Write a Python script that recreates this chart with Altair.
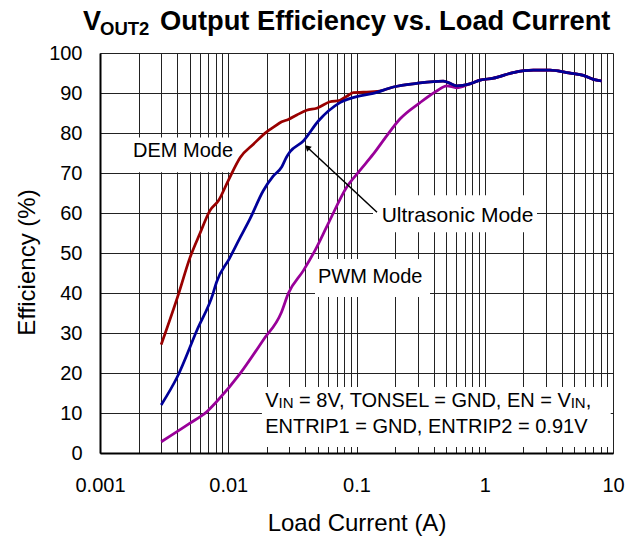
import altair as alt
import pandas as pd

FONT = "Liberation Sans"

# ---------------- data ----------------
dem_x = [0.003, 0.0041, 0.005, 0.006, 0.0072, 0.0084, 0.01, 0.0124, 0.0157, 0.01995, 0.0224,
         0.0261, 0.0294, 0.0342, 0.0409, 0.049, 0.0621, 0.0743, 0.084, 0.0945, 0.113, 0.152,
         0.194, 0.294, 0.474, 0.52, 0.604, 0.767, 0.918, 1.17, 1.67, 2.39, 3.23, 4.36, 5.87, 7.02, 8.15]
dem_y = [27.1, 39.8, 48.6, 54.8, 60.6, 63.1, 68.1, 73.9, 77.2, 80.3, 81.4,
         82.8, 83.4, 84.5, 85.7, 86.2, 87.8, 88.2, 89.2, 90.1, 90.2, 90.5,
         91.5, 92.4, 93.0, 92.6, 91.8, 92.3, 93.2, 93.7, 95.1, 95.7, 95.7, 95.1, 94.4, 93.4, 93.0]

ultra_x = [0.003, 0.004, 0.0057, 0.0076, 0.0081, 0.0102, 0.0124, 0.0148, 0.0187, 0.0224, 0.0261,
           0.0285, 0.0303, 0.0385, 0.0504, 0.0743, 0.106, 0.135, 0.194, 0.294, 0.474, 0.52,
           0.604, 0.767, 0.918, 1.17, 1.67, 2.39, 3.23, 4.36, 5.87, 7.02, 8.15]
ultra_y = [12.0, 19.0, 30.7, 39.8, 42.7, 48.6, 53.9, 58.6, 65.5, 69.2, 71.5,
           74.0, 75.3, 78.0, 83.0, 87.6, 89.3, 89.9, 91.5, 92.4, 93.0, 92.6,
           91.8, 92.3, 93.2, 93.7, 95.1, 95.7, 95.7, 95.1, 94.4, 93.4, 93.0]

pwm_x = [0.003, 0.005, 0.0068, 0.0081, 0.0124, 0.0187, 0.026, 0.0294, 0.0385, 0.0474, 0.0603,
         0.084, 0.106, 0.135, 0.172, 0.218, 0.313, 0.422, 0.505, 0.604, 0.767, 0.918, 1.17,
         1.67, 2.39, 3.23, 4.36, 5.87, 7.02, 8.15]
pwm_y = [2.8, 7.4, 10.3, 12.8, 19.9, 28.2, 35.2, 39.9, 45.6, 50.6, 57.4,
         66.5, 70.6, 74.7, 79.3, 83.5, 87.6, 90.5, 91.8, 91.3, 92.3, 93.2, 93.7,
         95.1, 95.7, 95.7, 95.1, 94.4, 93.4, 93.0]

x_ticks = [round(m * 10.0 ** e, 6) for e in range(-3, 1) for m in range(1, 10)] + [10.0]
y_ticks = list(range(0, 101, 10))

# label anchors (x in A, y in %)
label_text = ["DEM Mode", "Ultrasonic Mode", "PWM Mode"]
label_x = [0.00181, 0.1572, 0.0501]
label_y = [73.9, 57.7, 42.5]
label_size = [20, 21, 20]

# white label backgrounds
box_x = [0.00165, 0.1345, 0.04747, 0.0183]
box_x2 = [0.01169, 2.555, 0.3742, 9.6]
box_y = [70.2, 55.2, 39.0, 1.5]
box_y2 = [78.9, 64.45, 48.5, 16.5]

# arrow for "Ultrasonic Mode"
arrow_tail = (0.1445, 60.2)
arrow_head = (0.0419, 76.25)

# (text, size, dx, dy)
cond_line1 = [("V", 20, 0.0, 0), ("IN", 15, 13.3, 1), ("= 8V, TONSEL = GND, EN = V", 20, 33.9, 0),
              ("IN", 15, 305.5, 1), (",", 20, 320.5, 0)]
cond_line2 = "ENTRIP1 = GND, ENTRIP2 = 0.91V"
cond_x = 0.0194
cond_y = [11.5, 5.0]

# (text, size, x px, y px) relative to plot origin
title_pieces = [("V", 27, -17, -23), ("OUT2", 18.5, 0, -18),
                ("Output Efficiency vs. Load Current", 27.3, 60, -23)]

# ---------------- scales / axes ----------------
x_scale = alt.Scale(type="log", domain=[0.001, 10], nice=False)
y_scale = alt.Scale(domain=[0, 100], nice=False, zero=False)

x_axis = alt.Axis(
    values=x_ticks, title="Load Current (A)",
    labelExpr="abs(log(datum.value)/LN10 - round(log(datum.value)/LN10)) < 0.001 ? format(datum.value, '~g') : ''",
    labelFontSize=20, labelFont=FONT, labelColor="black", labelPadding=22,
    labelFlush=False, labelOverlap=False, ticks=False, tickSize=0,
    titleFontSize=24, titleFont=FONT, titleFontWeight="normal", titleColor="black", titlePadding=16,
    grid=True, gridColor="#222222", gridWidth=1, gridOpacity=1,
    domainColor="black", domainWidth=2)
y_axis = alt.Axis(
    values=y_ticks, title="Efficiency (%)",
    labelFontSize=20, labelFont=FONT, labelColor="black", labelPadding=18,
    ticks=False, tickSize=0,
    titleFontSize=24, titleFont=FONT, titleFontWeight="normal", titleColor="black",
    titleX=-66, titleY=209, titleBaseline="alphabetic",
    grid=True, gridColor="#222222", gridWidth=1, gridOpacity=1,
    domainColor="black", domainWidth=2)

X = alt.X("x:Q", scale=x_scale, axis=x_axis)
Y = alt.Y("y:Q", scale=y_scale, axis=y_axis)

layers = []

# white boxes behind labels
boxes = pd.DataFrame({"x": box_x, "x2": box_x2, "y": box_y, "y2": box_y2})
layers.append(alt.Chart(boxes).mark_rect(color="white", opacity=1).encode(
    x=X, x2="x2:Q", y=Y, y2="y2:Q"))

def curve(xs, ys, color):
    df = pd.DataFrame({"x": xs, "y": ys})
    return alt.Chart(df).mark_line(color=color, strokeWidth=2.75, clip=True,
                                   interpolate="monotone").encode(x=X, y=Y)

layers.append(curve(pwm_x, pwm_y, "#990099"))
layers.append(curve(dem_x, dem_y, "#990000"))
layers.append(curve(ultra_x, ultra_y, "#000099"))

# mode labels
for t, lx, ly, s in zip(label_text, label_x, label_y, label_size):
    df = pd.DataFrame({"x": [lx], "y": [ly], "t": [t]})
    layers.append(alt.Chart(df).mark_text(align="left", baseline="alphabetic", fontSize=s,
                                          font=FONT, color="black").encode(x=X, y=Y, text="t:N"))

# arrow
adf = pd.DataFrame({"x": [arrow_tail[0]], "y": [arrow_tail[1]],
                    "x2": [arrow_head[0]], "y2": [arrow_head[1]]})
layers.append(alt.Chart(adf).mark_rule(color="black", strokeWidth=1.5).encode(
    x=X, y=Y, x2="x2:Q", y2="y2:Q"))
hdf = pd.DataFrame({"x": [arrow_head[0]], "y": [arrow_head[1]]})
layers.append(alt.Chart(hdf).mark_point(shape="triangle", angle=313, size=45, filled=True,
                                         color="black", opacity=1).encode(x=X, y=Y))

# condition text box
for t, s, dx, dy in cond_line1:
    df = pd.DataFrame({"x": [cond_x], "y": [cond_y[0]], "t": [t]})
    layers.append(alt.Chart(df).mark_text(align="left", baseline="alphabetic", fontSize=s, font=FONT,
                                          color="black", dx=dx, dy=dy).encode(x=X, y=Y, text="t:N"))
df2 = pd.DataFrame({"x": [cond_x], "y": [cond_y[1]], "t": [cond_line2]})
layers.append(alt.Chart(df2).mark_text(align="left", baseline="alphabetic", fontSize=20, font=FONT,
                                       color="black").encode(x=X, y=Y, text="t:N"))

# title pieces (outside the plot area)
for t, s, px, py in title_pieces:
    df = pd.DataFrame({"t": [t]})
    layers.append(alt.Chart(df).mark_text(align="left", baseline="alphabetic", fontSize=s, font=FONT,
                                          fontWeight="bold", color="black").encode(
        x=alt.value(px), y=alt.value(py), text="t:N"))

chart = alt.layer(*layers).properties(
    width=513, height=400,
    autosize=alt.AutoSizeParams(type="none"),
    padding={"left": 92, "top": 45, "right": 22, "bottom": 84},
).configure_view(stroke="black", strokeWidth=1.5).configure(background="white")

chart.save("out.html", embed_options={"renderer": "svg", "actions": False})
